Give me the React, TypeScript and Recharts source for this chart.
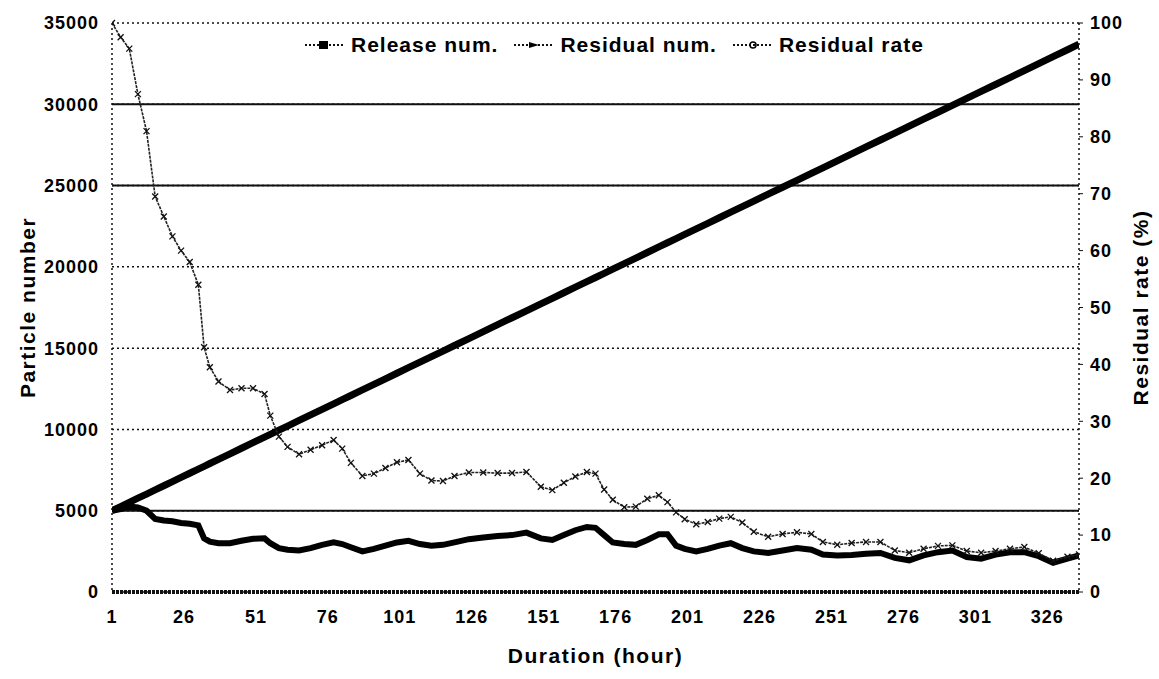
import { LineChart, Line, XAxis, YAxis, CartesianGrid, ReferenceLine, Legend } from 'recharts'

const hours = [
  1, 4, 7, 10, 13, 16, 19, 22, 25, 28, 31, 33, 35, 38, 42, 46, 50, 54, 56, 59, 62, 66, 70, 74, 78, 81, 84, 88,
  92, 96, 100, 104, 108, 112, 116, 120, 125, 130, 135, 140, 145, 150, 154, 158, 162, 166, 169, 172, 175, 179,
  183, 187, 191, 194, 197, 200, 204, 208, 212, 216, 220, 224, 229, 234, 239, 244, 248, 253, 258, 263, 268, 273,
  278, 283, 288, 293, 298, 303, 308, 313, 318, 323, 328, 333, 337,
]

const releaseNum = [
  5000, 5256, 5512, 5769, 6025, 6281, 6537, 6793, 7050, 7306, 7562, 7733, 7904, 8160, 8501, 8843, 9185, 9526,
  9697, 9953, 10209, 10551, 10893, 11234, 11576, 11832, 12088, 12430, 12771, 13113, 13455, 13796, 14138, 14479,
  14821, 15163, 15590, 16017, 16444, 16871, 17298, 17725, 18066, 18408, 18749, 19091, 19347, 19603, 19860,
  20201, 20543, 20884, 21226, 21482, 21738, 21995, 22336, 22678, 23019, 23361, 23703, 24044, 24471, 24898,
  25325, 25752, 26094, 26521, 26948, 27375, 27802, 28229, 28656, 29083, 29510, 29937, 30364, 30791, 31218,
  31645, 32072, 32499, 32926, 33353, 33694,
]

const residualNum = [
  5000, 5100, 5250, 5200, 5000, 4500, 4400, 4350, 4250, 4200, 4100, 3300, 3100, 3000, 3000, 3150, 3270, 3300,
  3000, 2700, 2600, 2550, 2700, 2900, 3050, 2950, 2750, 2500, 2650, 2850, 3050, 3150, 2950, 2850, 2900, 3050,
  3250, 3350, 3450, 3500, 3650, 3300, 3200, 3500, 3800, 4000, 3950, 3500, 3050, 2950, 2900, 3200, 3550, 3550,
  2850, 2650, 2500, 2650, 2850, 3000, 2700, 2500, 2400, 2550, 2700, 2600, 2300, 2250, 2280, 2350, 2400, 2100,
  1950, 2250, 2450, 2550, 2150, 2050, 2300, 2450, 2450, 2200, 1800, 2050, 2250,
]

const residualRate = [
  100, 97.5, 95.5, 87.5, 81, 69.5, 66, 62.5, 60, 58, 54, 43, 39.5, 37, 35.5, 35.8, 35.8, 34.8, 31, 27.3, 25.5,
  24.2, 25, 25.8, 26.7, 25.2, 22.7, 20.4, 20.8, 21.8, 22.8, 23.2, 20.8, 19.6, 19.5, 20.4, 21, 21, 20.9, 20.9,
  21.1, 18.5, 17.9, 19.2, 20.3, 21.1, 20.8, 18, 16.2, 14.9, 15, 16.4, 17, 15.8, 14, 12.8, 11.9, 12.3, 12.9,
  13.2, 12.2, 10.6, 9.7, 10.2, 10.5, 10.2, 8.8, 8.3, 8.6, 8.8, 8.8, 7.3, 6.9, 7.6, 8.1, 8.2, 7.2, 6.9, 7.2,
  7.6, 7.9, 6.8, 5.5, 6.2, 6.6,
]

const hourTicks = [1, 26, 51, 76, 101, 126, 151, 176, 201, 226, 251, 276, 301, 326]
const numberTicks = [0, 5000, 10000, 15000, 20000, 25000, 30000, 35000]
const rateTicks = [0, 10, 20, 30, 40, 50, 60, 70, 80, 90, 100]
const solidGridLines = [5000, 25000, 30000]

const data = hours.map((h, i) => ({
  hour: h,
  release: releaseNum[i],
  residual: residualNum[i],
  rate: residualRate[i],
}))

const FONT = '"Liberation Sans", Arial, sans-serif'

function RateDot(props: any) {
  const { cx, cy, index } = props
  if (cx == null || cy == null) return <g key={`d-${index}`} />
  const s = 3
  return (
    <path
      key={`d-${index}`}
      d={`M${cx - s},${cy - s}L${cx + s},${cy + s}M${cx - s},${cy + s}L${cx + s},${cy - s}`}
      stroke="#111"
      strokeWidth={1.3}
    />
  )
}

function LegendBox() {
  const item = (label: string, marker: React.ReactNode, gap: number) => (
    <div style={{ display: 'flex', alignItems: 'center', marginRight: gap }}>
      <svg width={44} height={14}>
        <line x1={2} y1={7} x2={42} y2={7} stroke="#111" strokeWidth={2} strokeDasharray="2 2" />
        {marker}
      </svg>
      <span style={{ marginLeft: 4 }}>{label}</span>
    </div>
  )
  return (
    <div
      style={{
        display: 'flex',
        fontFamily: FONT,
        fontWeight: 'bold',
        fontSize: 21,
        letterSpacing: 1,
        color: '#000',
        whiteSpace: 'nowrap',
      }}
    >
      {item('Release num.', <rect x={16} y={3} width={9} height={8} fill="#000" />, 14)}
      {item('Residual num.', <path d="M17,4 L27,7 L17,10 Z" fill="#000" />, 14)}
      {item('Residual rate', <circle cx={22} cy={7} r={3} fill="none" stroke="#000" strokeWidth={1.5} />, 0)}
    </div>
  )
}

const tickStyle = { fontFamily: FONT, fontWeight: 'bold' as const, fontSize: 18, fill: '#000', letterSpacing: 1 }
const titleStyle = { ...tickStyle, fontSize: 21, letterSpacing: 1.5, textAnchor: 'middle' as const }

export default function App() {
  return (
    <div style={{ width: 1159, height: 679, background: '#fff' }}>
      <style>{'body{margin:0}'}</style>
      <LineChart width={1159} height={679} data={data} margin={{ top: 23, right: 0, bottom: 0, left: 0 }}>
        <CartesianGrid vertical={false} stroke="#111" strokeWidth={1.5} strokeDasharray="2 3" yAxisId="left" />
        {solidGridLines.map((v) => (
          <ReferenceLine key={v} y={v} yAxisId="left" stroke="#111" strokeWidth={2} />
        ))}
        <XAxis
          dataKey="hour"
          type="number"
          domain={[1, 337]}
          ticks={hourTicks}
          allowDataOverflow
          height={87}
          tickSize={0}
          tickMargin={18}
          tick={tickStyle}
          axisLine={{ stroke: '#111', strokeWidth: 4, strokeDasharray: '3 1' }}
          label={{ value: 'Duration (hour)', position: 'center', dy: 20, style: titleStyle }}
        />
        <YAxis
          yAxisId="left"
          domain={[0, 35000]}
          ticks={numberTicks}
          width={112}
          tickSize={0}
          tickMargin={13}
          tick={tickStyle}
          axisLine={{ stroke: '#111', strokeWidth: 1.5, strokeDasharray: '2 3' }}
          label={{ value: 'Particle number', angle: -90, position: 'center', dx: -28, style: titleStyle }}
        />
        <YAxis
          yAxisId="right"
          orientation="right"
          domain={[0, 100]}
          ticks={rateTicks}
          width={80}
          tickSize={4}
          tickMargin={7}
          tick={{ ...tickStyle, textAnchor: 'start' }}
          tickLine={{ stroke: '#111' }}
          axisLine={{ stroke: '#111', strokeWidth: 1.5, strokeDasharray: '2 3' }}
          label={{ value: 'Residual rate (%)', angle: -90, position: 'center', dx: 22, style: titleStyle }}
        />
        <Legend
          layout="horizontal"
          verticalAlign="middle"
          align="center"
          content={() => <LegendBox />}
          wrapperStyle={{ top: 33, left: 303, width: 'auto', height: 'auto' }}
        />
        <Line
          yAxisId="left"
          type="linear"
          dataKey="release"
          stroke="#000"
          strokeWidth={7}
          dot={false}
          isAnimationActive={false}
        />
        <Line
          yAxisId="left"
          type="linear"
          dataKey="residual"
          stroke="#000"
          strokeWidth={6}
          dot={false}
          isAnimationActive={false}
        />
        <Line
          yAxisId="right"
          type="linear"
          dataKey="rate"
          stroke="#222"
          strokeWidth={1.6}
          strokeDasharray="3 1"
          dot={<RateDot />}
          isAnimationActive={false}
        />
      </LineChart>
    </div>
  )
}
